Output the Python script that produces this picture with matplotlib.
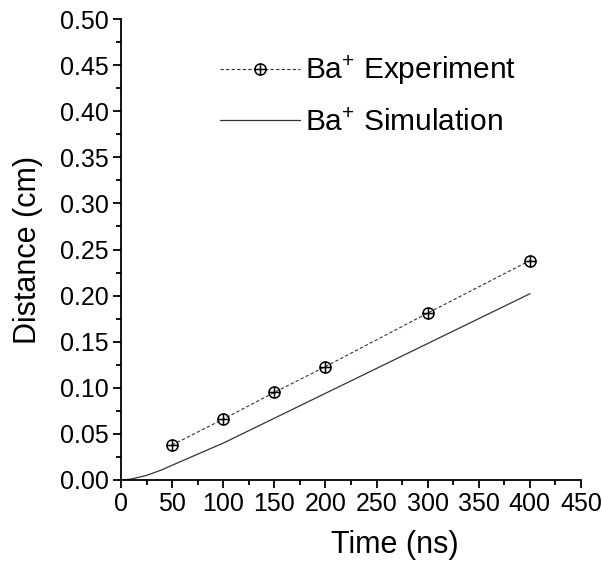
import matplotlib
matplotlib.use("Agg")
import matplotlib.pyplot as plt
from matplotlib.path import Path
from matplotlib.ticker import MultipleLocator

plt.rcParams['font.family'] = ['Liberation Sans', 'DejaVu Sans']
plt.rcParams['mathtext.fontset'] = 'custom'
plt.rcParams['mathtext.rm'] = 'Liberation Sans'
plt.rcParams['mathtext.it'] = 'Liberation Sans'

# experiment points
exp_time = [50, 100, 150, 200, 300, 400]
exp_dist = [0.038, 0.066, 0.095, 0.123, 0.181, 0.238]

# simulation curve
sim_time = [0, 10, 25, 40, 50, 75, 100, 150, 200, 250, 300, 350, 400]
sim_dist = [0.0, 0.001, 0.005, 0.011, 0.016, 0.028, 0.040, 0.067, 0.094,
            0.121, 0.148, 0.175, 0.202]

# circle with a cross inside
circ = Path.unit_circle()
cross = Path([(-1, 0), (1, 0), (0, -1), (0, 1)],
             [Path.MOVETO, Path.LINETO, Path.MOVETO, Path.LINETO])
oplus = Path.make_compound_path(circ, cross)

fig = plt.figure(figsize=(6.02, 5.61), dpi=100)
ax = fig.add_axes([0.201, 0.1444, 0.764, 0.8216])

ax.plot(exp_time, exp_dist, color='#333333', lw=0.8, ls=(0, (3, 2)),
        marker=oplus, ms=8, mfc='none', mec='black', mew=1.1,
        label=r'Ba$^{+}$ Experiment')
ax.plot(sim_time, sim_dist, color='#333333', lw=0.9,
        label=r'Ba$^{+}$ Simulation')

ax.set_xlim(0, 450)
ax.set_ylim(0, 0.50)
ax.xaxis.set_major_locator(MultipleLocator(50))
ax.xaxis.set_minor_locator(MultipleLocator(25))
ax.yaxis.set_major_locator(MultipleLocator(0.05))
ax.yaxis.set_minor_locator(MultipleLocator(0.025))
ax.yaxis.set_major_formatter(plt.FormatStrFormatter('%.2f'))

ax.spines['top'].set_visible(False)
ax.spines['right'].set_visible(False)
ax.spines['left'].set_linewidth(1.3)
ax.spines['bottom'].set_linewidth(1.3)
ax.tick_params(which='major', direction='out', length=6, width=1.3,
               labelsize=18, pad=3)
ax.tick_params(which='minor', direction='out', length=3.5, width=1.3)

ax.set_xlabel('Time (ns)', fontsize=22, labelpad=10, x=0.596)
ax.set_ylabel('Distance (cm)', fontsize=22, labelpad=12)

ax.legend(loc='upper left', bbox_to_anchor=(0.215, 0.925), frameon=False,
          fontsize=21.5, handlelength=2.68, handletextpad=0.17,
          labelspacing=0.72, borderpad=0, borderaxespad=0)

fig.savefig('out.png', dpi=100)
